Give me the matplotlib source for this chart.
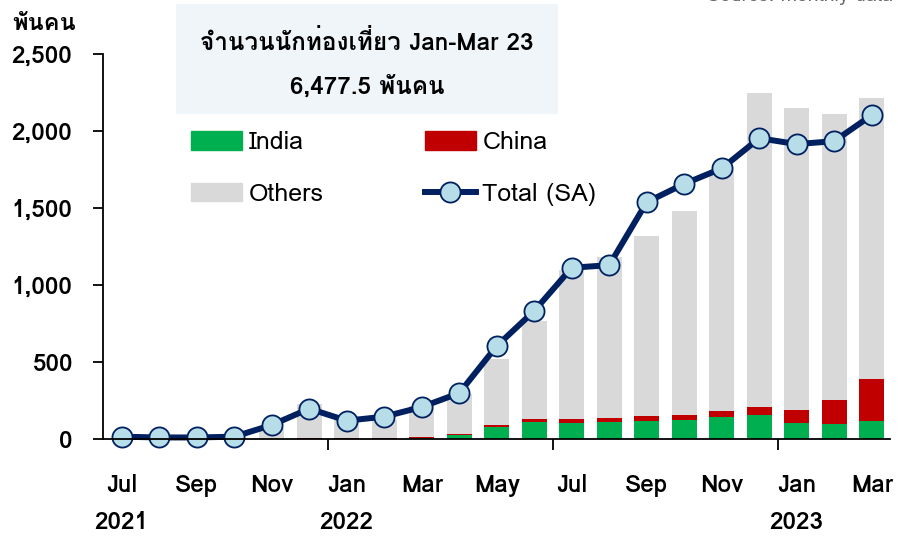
import matplotlib
matplotlib.use('Agg')
import matplotlib.pyplot as plt
import numpy as np
from matplotlib.patches import Patch
from matplotlib.lines import Line2D

plt.rcParams['font.family'] = ['Loma', 'DejaVu Sans']

# monthly data, Jul 2021 - Mar 2023 (thousand persons)
months = ['Jul', 'Aug', 'Sep', 'Oct', 'Nov', 'Dec',
          'Jan', 'Feb', 'Mar', 'Apr', 'May', 'Jun', 'Jul', 'Aug', 'Sep', 'Oct', 'Nov', 'Dec',
          'Jan', 'Feb', 'Mar']
india = [0.5, 0.5, 0.5, 0.5, 1, 1, 1, 1, 9, 24, 76, 110, 104, 112, 117, 125, 143, 153, 104, 97, 117]
china = [0.3, 0.3, 0.3, 0.3, 2, 5, 3, 3, 4, 8, 13, 20, 26, 26, 30, 33, 36, 52, 86, 156, 270]
bar_total = [3, 2, 2, 4, 72, 227, 125, 125, 215, 295, 519, 768, 1097, 1179, 1317, 1482, 1745,
             2250, 2150, 2112, 2215.5]
total_sa = [15, 10, 10, 15, 91, 197, 119, 145, 208, 298, 604, 832, 1112, 1129, 1538, 1657, 1757,
            1953, 1915, 1934, 2103]
years = {0: '2021', 6: '2022', 18: '2023'}

india = np.array(india)
china = np.array(china)
others = np.array(bar_total) - india - china
x = np.arange(len(months))

green = '#00B050'
red = '#C00000'
grey = '#D9D9D9'
navy = '#002060'
light = '#B7DEE8'
fs = 17.5

fig = plt.figure(figsize=(8.98, 5.36), dpi=100)
ax = fig.add_axes([103 / 898, 1 - 439 / 536, 787.5 / 898, 385 / 536])

w = 0.67
ax.bar(x, india, width=w, color=green, zorder=2)
ax.bar(x, china, width=w, bottom=india, color=red, zorder=2)
ax.bar(x, others, width=w, bottom=india + china, color=grey, zorder=2)
ax.plot(x, total_sa, color=navy, lw=4.3, marker='o', ms=14.5, mfc=light, mec=navy, mew=1.3,
        zorder=3, clip_on=False)

ax.set_xlim(-0.5, 20.5)
ax.set_ylim(0, 2500)
ax.set_yticks(range(0, 2501, 500))
ax.set_yticklabels([f'{v:,}' for v in range(0, 2501, 500)])
ax.tick_params(axis='y', length=7, width=1.3, pad=15, labelsize=fs)
for lab in ax.get_yticklabels():
    lab.set_fontweight('bold')

ax.set_xticks([5.5, 11.5, 17.5])
ax.set_xticklabels([])
ax.tick_params(axis='x', which='major', length=8, width=1.3, direction='out')
ax.set_xticks(x[::2], minor=True)
ax.set_xticklabels(months[::2], minor=True)
ax.tick_params(axis='x', which='minor', length=0, pad=25, labelsize=fs)
for lab in ax.get_xticklabels(minor=True):
    lab.set_fontweight('bold')

for pos, yr in years.items():
    ax.text(pos, -0.216, yr, transform=ax.get_xaxis_transform(), ha='center', va='center',
            fontsize=fs, fontweight='bold')

for s in ['top', 'right']:
    ax.spines[s].set_visible(False)
for s in ['left', 'bottom']:
    ax.spines[s].set_linewidth(1.3)
ax.spines['bottom'].set_zorder(4)

fig.text(12 / 898, 1 - 24 / 536, 'พันคน', fontsize=17, fontweight='bold', va='center', ha='left')

# highlight box
fig.patches.append(plt.Rectangle((176 / 898, 1 - 114 / 536), 382 / 898, 110 / 536,
                                 transform=fig.transFigure, facecolor='#F0F5FA', edgecolor='none',
                                 zorder=5))
fig.text(367 / 898, 1 - 42 / 536, 'จำนวนนักท่องเที่ยว Jan-Mar 23', fontsize=fs, fontweight='bold',
         ha='center', va='center', zorder=6)
fig.text(367 / 898, 1 - 87 / 536, '6,477.5 พันคน', fontsize=fs, fontweight='bold',
         ha='center', va='center', zorder=6)

fig.text(893 / 898, 1 - 1 / 536, 'Source: monthly data', fontsize=14, color='#666666',
         ha='right', va='baseline')

# legend, row-wise: India / China, Others / Total (SA)
handles = [Patch(color=green), Patch(color=grey), Patch(color=red),
           Line2D([], [], color=navy, lw=4.3, marker='o', ms=14.5, mfc=light, mec=navy, mew=1.3)]
labels = ['India', 'Others', 'China', 'Total (SA)']
leg = fig.legend(handles, labels, ncol=2, loc='upper left', bbox_to_anchor=(191 / 898, 1 - 131 / 536),
                 frameon=False, fontsize=18, handlelength=2.05, handleheight=0.76, handletextpad=0.25,
                 columnspacing=4.05, labelspacing=1.15, borderpad=0, borderaxespad=0)

fig.savefig('out.png', dpi=100)
